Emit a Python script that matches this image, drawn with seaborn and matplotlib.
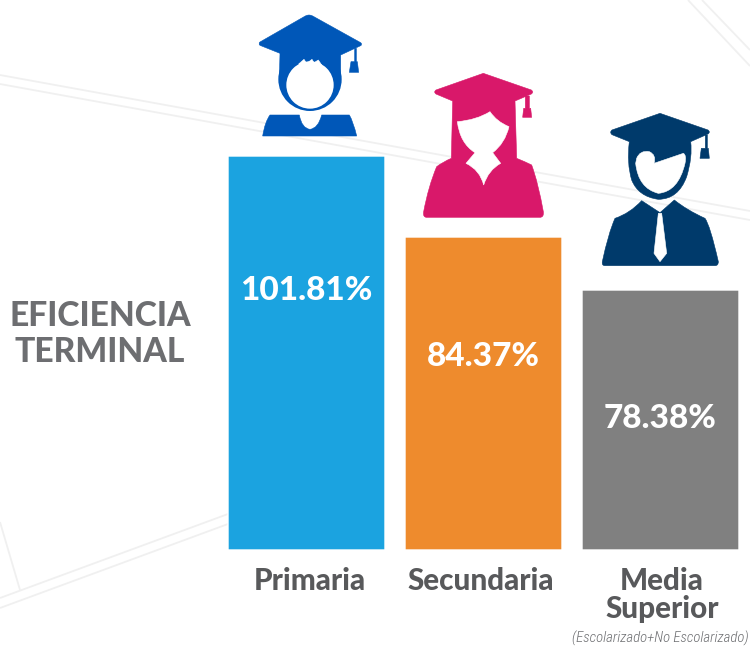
import re
import matplotlib
matplotlib.use("Agg")
import matplotlib.pyplot as plt
import matplotlib.transforms as mtrans
import pandas as pd
import seaborn as sns
from matplotlib.patches import Circle, PathPatch
from matplotlib.path import Path

# data
niveles = ["Primaria", "Secundaria", "Media\nSuperior"]
etiquetas = ["101.81%", "84.37%", "78.38%"]
# the original bars are not to scale with the printed %, so heights are the drawn ones
alturas = [394, 313, 260]
altura_etiqueta = [259, 193, 131]
colores = ["#1BA3E0", "#EE8B2D", "#808080"]
desplaza_x = [3.5, -3, 1.5]

gris = "#58595B"

sns.set_theme(style="white")
plt.rcParams["font.family"] = ["Lato", "DejaVu Sans"]

fig = plt.figure(figsize=(7.5, 6.46), dpi=100)

# background and icons are drawn in picture pixels
fondo = fig.add_axes([0, 0, 1, 1], zorder=0)
fondo.set(xlim=(0, 750), ylim=(646, 0))
fondo.axis("off")

lineas = [
    ((0, 75), (750, 211)), ((0, 84), (750, 220)),
    ((0, 598), (228, 514)), ((0, 608), (228, 524)),
    ((0, 522), (20, 590)),
    ((688, 0), (750, 66)), ((702, 0), (750, 50)),
]
for a, b in lineas:
    fondo.plot([a[0], b[0]], [a[1], b[1]], color="#F0F0F0", lw=1.3, solid_capstyle="butt")

# bars
df = pd.DataFrame({"nivel": niveles, "altura": alturas})
ax = fig.add_axes([218 / 750, 96 / 646, 531 / 750, 550 / 646], zorder=1)
ax.patch.set_alpha(0)
sns.barplot(data=df, x="nivel", y="altura", hue="nivel", palette=colores,
            width=157 / 177, dodge=False, saturation=1, legend=False, ax=ax)
for barra in ax.patches:
    barra.set_snap(False)
ax.set(xlim=(-0.5, 2.5), ylim=(0, 550), xlabel="", ylabel="", yticks=[])
sns.despine(ax=ax, left=True, bottom=True)
ax.tick_params(axis="x", length=0, pad=12)
for lab, dx in zip(ax.get_xticklabels(), desplaza_x):
    lab.set(fontsize=21.3, fontweight=900, color=gris, linespacing=1.0, va="top")
    lab.set_transform(lab.get_transform() + mtrans.ScaledTranslation(dx / 100, 0, fig.dpi_scale_trans))
for i, txt in enumerate(etiquetas):
    ax.text(i, altura_etiqueta[i], txt, color="white", fontsize=24, fontweight=900,
            ha="center", va="center")

# overlay for icons and loose text
capa = fig.add_axes([0, 0, 1, 1], zorder=2)
capa.set(xlim=(0, 750), ylim=(646, 0))
capa.axis("off")


def trazo(d, ox, oy):
    # small svg-like path, coordinates taken at 3x zoom
    tok = re.findall(r"[MLQZ]|-?\d+\.?\d*", d)
    verts, codes = [], []
    i = 0
    while i < len(tok):
        c = tok[i]
        i += 1
        n = {"M": 1, "L": 1, "Q": 2, "Z": 0}[c]
        for _ in range(n):
            verts.append((ox + float(tok[i]) / 3, oy + float(tok[i + 1]) / 3))
            i += 2
            codes.append({"M": Path.MOVETO, "L": Path.LINETO, "Q": Path.CURVE3}[c])
        if c == "Z":
            verts.append(verts[-1])
            codes.append(Path.CLOSEPOLY)
    return Path(verts, codes)


def dibuja(d, ox, oy, color):
    capa.add_patch(PathPatch(trazo(d, ox, oy), fc=color, ec=color, lw=0.4))


azul, rosa, marino = "#0057B8", "#D9186A", "#003A6B"

# Primaria
ox, oy = 240, 0
dibuja("M207 45 Q212 45 218 48 L362 128 Q368 133 362 137 L302 165 L302 240 L118 240 L120 160 L60 136 Q54 131 60 126 L196 48 Q202 45 207 45 Z", ox, oy, azul)
capa.add_patch(Circle((ox + 210 / 3, oy + 238 / 3), 95 / 3, fc=azul, ec="none"))
capa.add_patch(Circle((ox + 210 / 3, oy + 255 / 3), 71 / 3, fc="white", ec="none"))
dibuja("M176 192 L192 178 L200 190 L216 178 L222 188 L235 180 L245 195 Z", ox, oy, "white")
dibuja("M90 345 L178 345 Q185 385 210 388 Q235 385 245 345 L328 345 Q340 365 350 408 L68 408 Q75 365 90 345 Z", ox, oy, azul)
dibuja("M344 145 L349 145 L349 185 L352 185 L356 217 L328 217 L333 185 L344 185 Z", ox, oy, azul)

# Secundaria
ox, oy = 410, 60
dibuja("M220 40 L364 90 Q372 96 364 102 L315 123 L320 295 Q345 305 365 315 Q385 370 400 455 Q402 472 390 472 L50 472 Q38 472 41 455 Q55 380 80 320 Q100 305 124 295 L128 123 L78 102 Q70 96 78 90 Z", ox, oy, rosa)
dibuja("M142 185 Q200 180 240 155 Q260 185 297 200 Q285 250 248 278 L272 310 Q235 330 221 375 Q210 330 168 310 L195 278 Q150 250 142 185 Z", ox, oy, "white")
dibuja("M346 108 L358 108 L358 145 L362 145 L365 172 L338 172 L341 145 L346 145 Z", ox, oy, rosa)

# Media Superior
ox, oy = 590, 100
dibuja("M210 40 L354 90 Q362 96 354 102 L302 125 Q308 170 290 230 Q265 298 205 298 Q145 290 125 240 Q110 190 118 125 L66 104 Q58 97 66 90 Z", ox, oy, marino)
dibuja("M140 175 Q150 150 178 155 Q200 165 192 190 L280 160 Q290 165 285 190 Q265 275 205 280 Q145 265 137 190 Z", ox, oy, "white")
dibuja("M155 302 L210 338 L253 300 Q290 330 345 355 Q360 375 385 485 Q385 497 375 497 L45 497 Q35 497 37 485 Q55 400 75 355 Q120 340 155 302 Z", ox, oy, marino)
dibuja("M205 340 L215 340 L230 460 L210 485 L192 460 Z", ox, oy, "white")
dibuja("M346 105 L352 105 L352 145 L355 145 L358 175 L330 175 L334 145 L346 145 Z", ox, oy, marino)

capa.text(100, 334, "EFICIENCIA\nTERMINAL", ha="center", va="center", fontsize=24.2, fontweight=900,
          color="#6D6E71", linespacing=1.14)
capa.text(660, 638, "(Escolarizado+No Escolarizado)", ha="center", va="center", fontsize=10.6, style="italic",
          fontweight=300, color="#6D6E71", family=["Roboto Condensed", "Lato", "DejaVu Sans"])

fig.savefig("out.png", dpi=100)
